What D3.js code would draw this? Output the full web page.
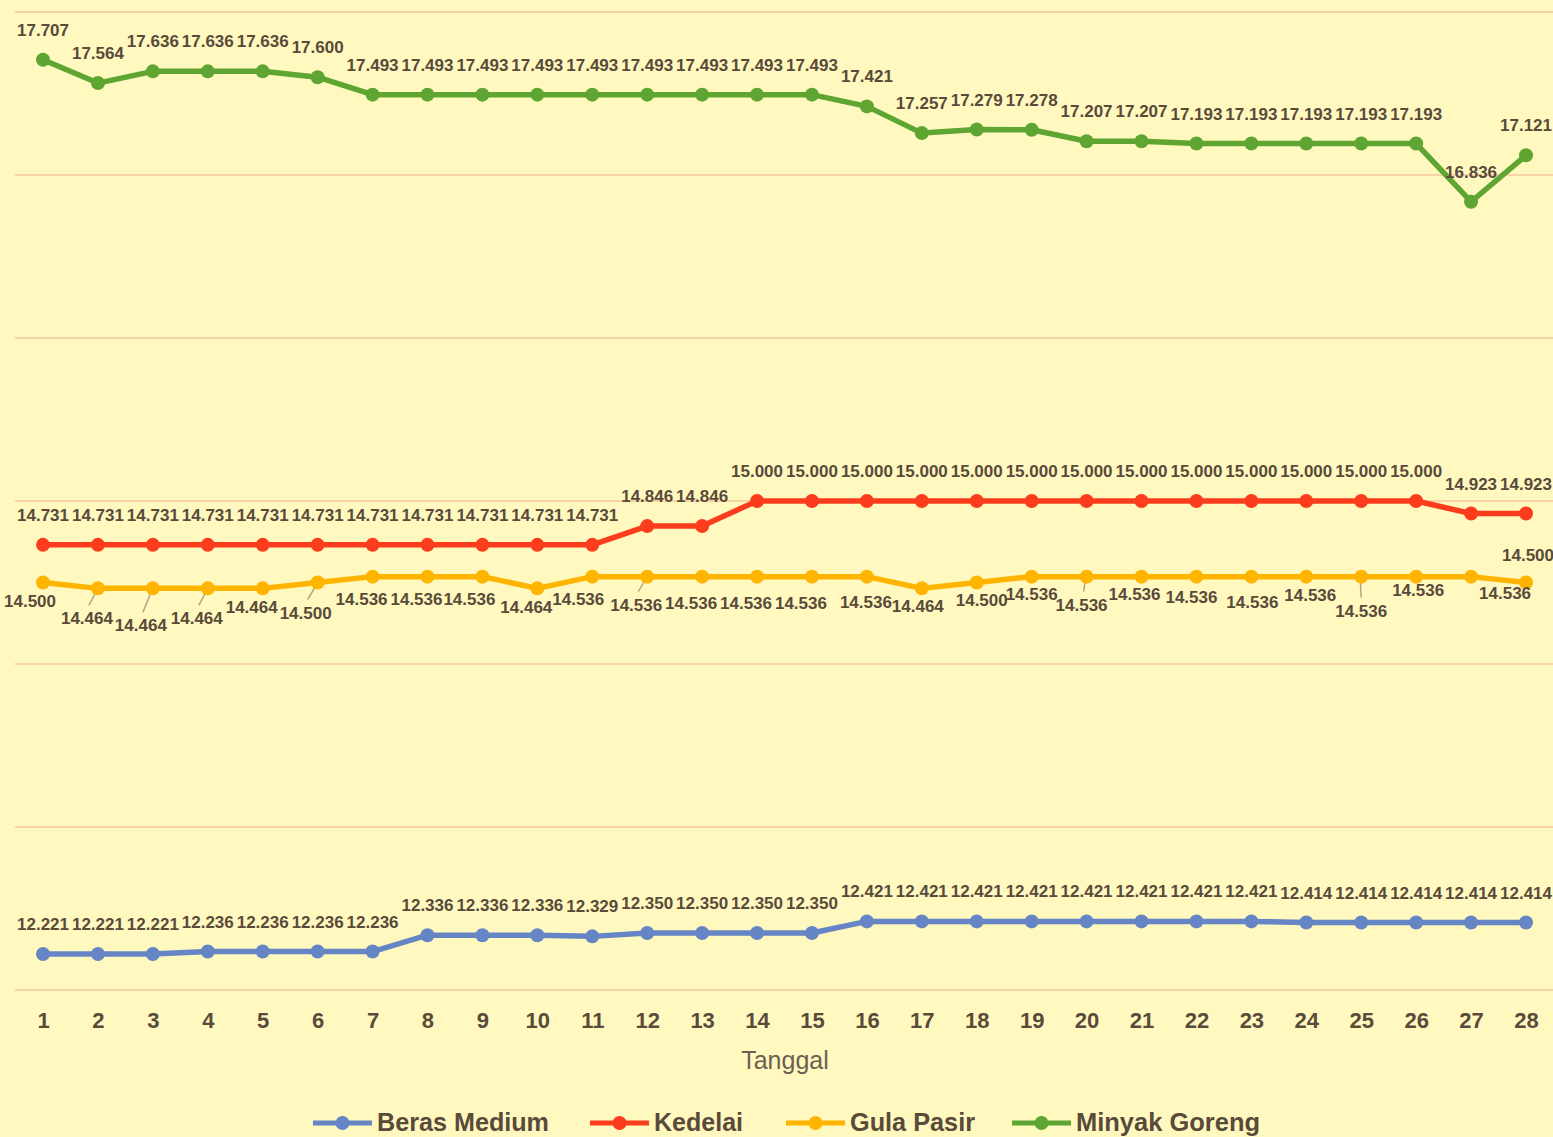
<!DOCTYPE html>
<html>
<head>
<meta charset="utf-8">
<script src="https://cdn.jsdelivr.net/npm/d3@7"></script>
<style>
  body { margin: 0; background: #fff9c0; }
  svg { display: block; }
</style>
</head>
<body>
<div class="chart"></div>
<script>
var width = 1553;
var height = 1137;

// tanggal 1..28
var days = d3.range(1, 29);

var seriesNames = ['Beras Medium', 'Kedelai', 'Gula Pasir', 'Minyak Goreng'];
var seriesColors = ['#6585c4', '#fc3d1d', '#ffb500', '#5ea532'];

var berasMedium = [12221, 12221, 12221, 12236, 12236, 12236, 12236, 12336, 12336, 12336,
	12329, 12350, 12350, 12350, 12350, 12421, 12421, 12421, 12421, 12421,
	12421, 12421, 12421, 12414, 12414, 12414, 12414, 12414];
var kedelai = [14731, 14731, 14731, 14731, 14731, 14731, 14731, 14731, 14731, 14731,
	14731, 14846, 14846, 15000, 15000, 15000, 15000, 15000, 15000, 15000,
	15000, 15000, 15000, 15000, 15000, 15000, 14923, 14923];
var gulaPasir = [14500, 14464, 14464, 14464, 14464, 14500, 14536, 14536, 14536, 14464,
	14536, 14536, 14536, 14536, 14536, 14536, 14464, 14500, 14536, 14536,
	14536, 14536, 14536, 14536, 14536, 14536, 14536, 14500];
var minyakGoreng = [17707, 17564, 17636, 17636, 17636, 17600, 17493, 17493, 17493, 17493,
	17493, 17493, 17493, 17493, 17493, 17421, 17257, 17279, 17278, 17207,
	17207, 17193, 17193, 17193, 17193, 17193, 16836, 17121];

var yTicks = [12000, 13000, 14000, 15000, 16000, 17000, 18000];

// label placement for Gula Pasir (Excel put them below, shuffled around)
var gulaLabelShift = [[-13, 18], [-11, 30], [-12, 37], [-11, 30], [-11, 19], [-12, 30], [-11, 22],
	[-11, 22], [-13, 22], [-11, 19], [-14, 22], [-11, 28], [-11, 26], [-11, 26], [-11, 26],
	[-1, 25], [-4, 18], [5, 17], [0, 17], [-5, 28], [-7, 17], [-5, 20], [1, 25], [4, 18],
	[0, 34], [2, 13], [34, 16], [2, -28]];
var gulaLeaders = [1, 2, 3, 5, 11, 19, 24];

var allSeries = [berasMedium, kedelai, gulaPasir, minyakGoreng];

var idFormat = d3.formatLocale({ decimal: ',', thousands: '.', grouping: [3], currency: ['Rp', ''] }).format(',.0f');

var svg = d3.select('.chart')
	.append('svg')
	.attr('width', width)
	.attr('height', height);

svg.append('rect')
	.attr('width', width)
	.attr('height', height)
	.attr('fill', '#fff9c0');

var x = d3.scalePoint().domain(days).range([43, 1526]);
var y = d3.scaleLinear().domain([12000, 18000]).range([990, 12]);

var textColor = '#594a3a';

// gridlines
svg.selectAll('.grid')
	.data(yTicks)
	.enter().append('line')
	.attr('class', 'grid')
	.attr('x1', 15)
	.attr('x2', width)
	.attr('y1', function(d){ return y(d) })
	.attr('y2', function(d){ return y(d) })
	.attr('stroke', '#f8d3a6')
	.attr('stroke-width', 2);

// x axis labels
var xAxis = d3.axisBottom(x).tickSize(0).tickPadding(0);
var gx = svg.append('g')
	.attr('transform', 'translate(0,1012)')
	.call(xAxis);
gx.select('.domain').remove();
gx.selectAll('text')
	.attr('dy', '0.71em')
	.attr('font-family', 'Liberation Sans, Arial, sans-serif')
	.attr('font-size', '22px')
	.attr('font-weight', 'bold')
	.attr('fill', textColor);

svg.append('text')
	.attr('x', 785)
	.attr('y', 1069)
	.attr('text-anchor', 'middle')
	.attr('font-family', 'Liberation Sans, Arial, sans-serif')
	.attr('font-size', '25px')
	.attr('fill', '#6e604f')
	.text('Tanggal');

var line = d3.line()
	.x(function(d, i){ return x(days[i]) })
	.y(function(d){ return y(d) });

// leader lines for gula pasir
svg.selectAll('.leader')
	.data(gulaLeaders)
	.enter().append('line')
	.attr('class', 'leader')
	.attr('x1', function(i){ return x(days[i]) - 1 })
	.attr('y1', function(i){ return y(gulaPasir[i]) + 2 })
	.attr('x2', function(i){ return x(days[i]) + gulaLabelShift[i][0] + (gulaLabelShift[i][0] < -3 ? 2 : 0) })
	.attr('y2', function(i){ return y(gulaPasir[i]) + gulaLabelShift[i][1] - 13 })
	.attr('stroke', '#b4a585')
	.attr('stroke-width', 1.5);

allSeries.forEach(function(vals, s){
	var g = svg.append('g');
	g.append('path')
		.datum(vals)
		.attr('d', line)
		.attr('fill', 'none')
		.attr('stroke', seriesColors[s])
		.attr('stroke-width', 5.5)
		.attr('stroke-linejoin', 'round');
	g.selectAll('circle')
		.data(vals)
		.enter().append('circle')
		.attr('cx', function(d, i){ return x(days[i]) })
		.attr('cy', function(d){ return y(d) })
		.attr('r', 7)
		.attr('fill', seriesColors[s]);
});

// data labels
allSeries.forEach(function(vals, s){
	svg.append('g').selectAll('text')
		.data(vals)
		.enter().append('text')
		.attr('x', function(d, i){
			var dx = s === 2 ? gulaLabelShift[i][0] : 0;
			return x(days[i]) + dx;
		})
		.attr('y', function(d, i){
			var dy = s === 2 ? gulaLabelShift[i][1] : -30;
			return y(d) + dy + 6;
		})
		.attr('text-anchor', 'middle')
		.attr('font-family', 'Liberation Sans, Arial, sans-serif')
		.attr('font-size', '17px')
		.attr('font-weight', 'bold')
		.attr('fill', textColor)
		.text(function(d){ return idFormat(d) });
});

// legend
var legendX = [313, 590, 786, 1012];
var legendW = [172, 89, 125, 184];
var legend = svg.selectAll('.legend')
	.data(seriesNames)
	.enter().append('g')
	.attr('class', 'legend')
	.attr('transform', function(d, i){ return 'translate(' + legendX[i] + ',1123)' });
legend.append('line')
	.attr('x1', 0).attr('x2', 59)
	.attr('stroke', function(d, i){ return seriesColors[i] })
	.attr('stroke-width', 5);
legend.append('circle')
	.attr('cx', 29.5)
	.attr('r', 7)
	.attr('fill', function(d, i){ return seriesColors[i] });
legend.append('text')
	.attr('x', 64)
	.attr('y', 8)
	.attr('font-family', 'Liberation Sans, Arial, sans-serif')
	.attr('font-size', '25px')
	.attr('font-weight', 'bold')
	.attr('textLength', function(d, i){ return legendW[i] })
	.attr('lengthAdjust', 'spacingAndGlyphs')
	.attr('fill', textColor)
	.text(function(d){ return d });
</script>
</body>
</html>
